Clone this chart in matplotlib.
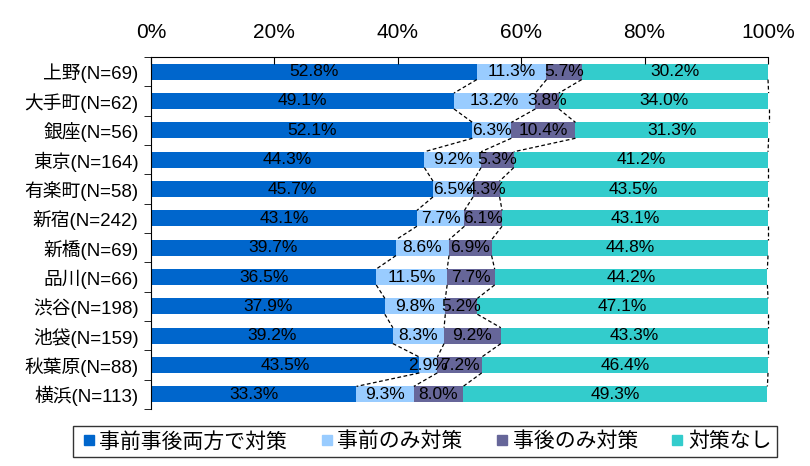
import matplotlib.pyplot as plt
from matplotlib.lines import Line2D
from matplotlib.ticker import FuncFormatter

plt.rcParams['font.family'] = ['Liberation Sans', 'Noto Sans CJK JP']

stations = ['上野(N=69)', '大手町(N=62)', '銀座(N=56)', '東京(N=164)', '有楽町(N=58)',
            '新宿(N=242)', '新橋(N=69)', '品川(N=66)', '渋谷(N=198)', '池袋(N=159)',
            '秋葉原(N=88)', '横浜(N=113)']
both = [52.8, 49.1, 52.1, 44.3, 45.7, 43.1, 39.7, 36.5, 37.9, 39.2, 43.5, 33.3]
before_only = [11.3, 13.2, 6.3, 9.2, 6.5, 7.7, 8.6, 11.5, 9.8, 8.3, 2.9, 9.3]
after_only = [5.7, 3.8, 10.4, 5.3, 4.3, 6.1, 6.9, 7.7, 5.2, 9.2, 7.2, 8.0]
none = [30.2, 34.0, 31.3, 41.2, 43.5, 43.1, 44.8, 44.2, 47.1, 43.3, 46.4, 49.3]

series = [both, before_only, after_only, none]
names = ['事前事後両方で対策', '事前のみ対策', '事後のみ対策', '対策なし']
colors = ['#0066CC', '#99CCFF', '#666699', '#33CCCC']

fig = plt.figure(figsize=(8.1, 4.66), dpi=100)
ax = fig.add_axes([151 / 810, 1 - 409 / 466, 617 / 810, 352 / 466])

h = 0.54
y = list(range(len(stations)))
left = [0.0] * len(stations)
bounds = []
for vals, col in zip(series, colors):
    ax.barh(y, vals, left=left, height=h, color=col, edgecolor='none')
    for i, v in enumerate(vals):
        ax.text(left[i] + v / 2, i, f'{v:.1f}%', ha='center', va='center', fontsize=12.5)
    left = [l + v for l, v in zip(left, vals)]
    bounds.append(list(left))

# series lines between bars
for b in bounds:
    for i in range(len(stations) - 1):
        ax.plot([b[i], b[i + 1]], [i + h / 2, i + 1 - h / 2], color='black',
                ls=(0, (3, 2)), lw=0.9, clip_on=False)

ax.set_xlim(0, 100)
ax.set_ylim(len(stations) - 0.5, -0.5)
ax.xaxis.tick_top()
ax.set_xticks([0, 20, 40, 60, 80, 100])
ax.xaxis.set_major_formatter(FuncFormatter(lambda v, p: f'{v:.0f}%'))
ax.tick_params(axis='x', direction='in', length=5, labelsize=15, pad=11)
ax.set_yticks(y)
ax.set_yticklabels(stations, fontsize=13.5)
ax.set_yticks([i - 0.5 for i in range(len(stations) + 1)], minor=True)
ax.tick_params(axis='y', which='major', length=0, pad=9)
ax.tick_params(axis='y', which='minor', length=5, direction='out')
ax.spines['bottom'].set_visible(False)
ax.spines['right'].set_visible(False)

handles = [Line2D([], [], marker='s', ls='none', color=c, markersize=7) for c in colors]
leg = fig.legend(handles, names, loc='center', bbox_to_anchor=(425 / 810, 1 - 441.5 / 466),
                 ncol=4, fontsize=15, frameon=True, fancybox=False, edgecolor='black',
                 handletextpad=0.0, columnspacing=1.4, borderpad=0.25, handlelength=1.0)
leg.get_frame().set_linewidth(1.0)

fig.savefig('out.png', dpi=100)
